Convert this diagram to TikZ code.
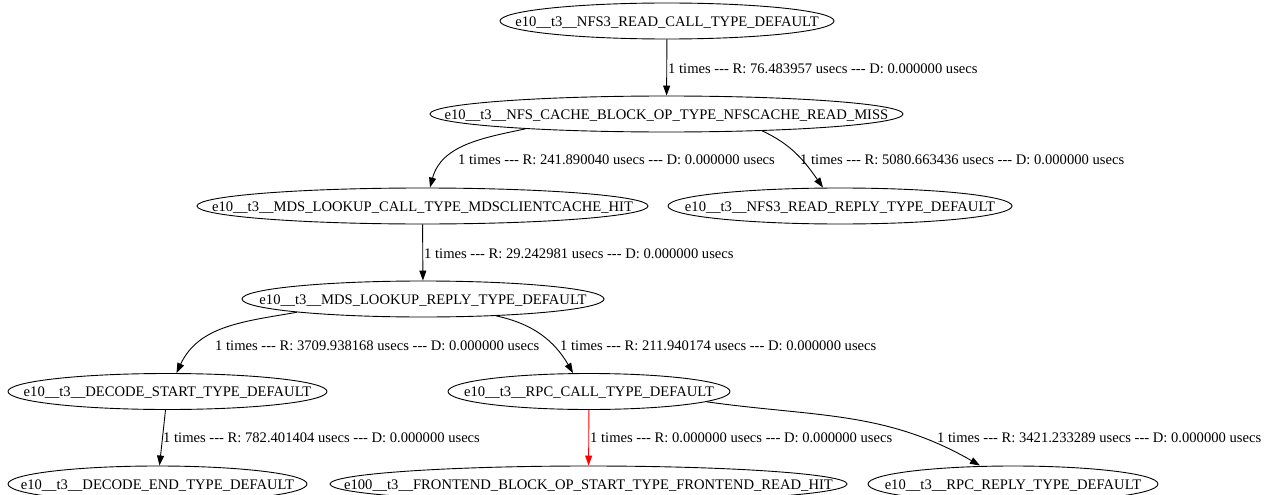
\documentclass[tikz,border=0pt]{standalone}
\usepackage{fontspec}
\setmainfont{Liberation Serif}
\usetikzlibrary{shapes.geometric,arrows.meta}
\newcommand\gvfont{\fontsize{14.6}{17}\selectfont}
\newcommand\ddd{-{}-{}-}
\begin{document}
\begin{tikzpicture}[x=1pt,y=-1pt,
  gnode/.style={ellipse, draw, line width=0.9pt, minimum height=36pt, inner sep=0pt},
  ntext/.style={inner sep=0pt, font=\gvfont, yshift=-1.5pt},
  elabel/.style={anchor=west, inner sep=0pt, font=\gvfont},
  conn/.style={draw, line width=0.9pt, -{Triangle[length=10pt,width=7pt]}},
]
\fill[white] (0,0) rectangle (1269,495);
\useasboundingbox (0,0) rectangle (1269,495);

% nodes
\node[gnode, minimum width=334pt] (n1) at (667,21) {};
\node[ntext] (n1t) at (n1.center) {e10\_\_t3\_\_NFS3\_READ\_CALL\_TYPE\_DEFAULT};
\node[gnode, minimum width=473pt] (n2) at (666.5,114) {};
\node[ntext] (n2t) at (n2.center) {e10\_\_t3\_\_NFS\_CACHE\_BLOCK\_OP\_TYPE\_NFSCACHE\_READ\_MISS};
\node[gnode, minimum width=451pt] (n3) at (422.5,206) {};
\node[ntext] (n3t) at (n3.center) {e10\_\_t3\_\_MDS\_LOOKUP\_CALL\_TYPE\_MDSCLIENTCACHE\_HIT};
\node[gnode, minimum width=344pt] (n4) at (840,206) {};
\node[ntext] (n4t) at (n4.center) {e10\_\_t3\_\_NFS3\_READ\_REPLY\_TYPE\_DEFAULT};
\node[gnode, minimum width=362pt] (n5) at (423,299) {};
\node[ntext] (n5t) at (n5.center) {e10\_\_t3\_\_MDS\_LOOKUP\_REPLY\_TYPE\_DEFAULT};
\node[gnode, minimum width=319pt] (n6) at (167.5,391.5) {};
\node[ntext] (n6t) at (n6.center) {e10\_\_t3\_\_DECODE\_START\_TYPE\_DEFAULT};
\node[gnode, minimum width=282pt] (n7) at (589,391.5) {};
\node[ntext] (n7t) at (n7.center) {e10\_\_t3\_\_RPC\_CALL\_TYPE\_DEFAULT};
\node[gnode, minimum width=299pt] (n8) at (157.5,484) {};
\node[ntext] (n8t) at (n8.center) {e10\_\_t3\_\_DECODE\_END\_TYPE\_DEFAULT};
\node[gnode, minimum width=517pt] (n9) at (588.5,484) {};
\node[ntext] (n9t) at (n9.center) {e100\_\_t3\_\_FRONTEND\_BLOCK\_OP\_START\_TYPE\_FRONTEND\_READ\_HIT};
\node[gnode, minimum width=290pt] (n10) at (1013,484) {};
\node[ntext] (n10t) at (n10.center) {e10\_\_t3\_\_RPC\_REPLY\_TYPE\_DEFAULT};

% edges
\draw[conn] (n1) -- (n2);
\draw[conn] (n2.186) to[out=192,in=75] ([xshift=7.5pt]n3.north);
\draw[conn] (n2.350) to[out=-25,in=125] ([xshift=-17pt]n4.north);
\draw[conn] (n3) -- (n5);
\draw[conn] (n5.186) to[out=190,in=65] ([xshift=9pt]n6.north);
\draw[conn] (n5.347) to[out=-12,in=120] ([xshift=-16pt]n7.north);
\draw[conn] (n6) -- (n8);
\draw[conn, red] (n7) -- (n9);
\draw[conn] (n7.355) to[out=-8,in=150] ([xshift=-33pt]n10.north);

% edge labels
\node[elabel] (l1) at (668,69) {1 times \ddd{} R: 76.483957 usecs \ddd{} D: 0.000000 usecs};
\node[elabel] (l2) at (458,160) {1 times \ddd{} R: 241.890040 usecs \ddd{} D: 0.000000 usecs};
\node[elabel] (l3) at (800,160) {1 times \ddd{} R: 5080.663436 usecs \ddd{} D: 0.000000 usecs};
\node[elabel] (l4) at (424,254) {1 times \ddd{} R: 29.242981 usecs \ddd{} D: 0.000000 usecs};
\node[elabel] (l5) at (215,346) {1 times \ddd{} R: 3709.938168 usecs \ddd{} D: 0.000000 usecs};
\node[elabel] (l6) at (560,346) {1 times \ddd{} R: 211.940174 usecs \ddd{} D: 0.000000 usecs};
\node[elabel] (l7) at (163,438) {1 times \ddd{} R: 782.401404 usecs \ddd{} D: 0.000000 usecs};
\node[elabel] (l8) at (590,438) {1 times \ddd{} R: 0.000000 usecs \ddd{} D: 0.000000 usecs};
\node[elabel] (l9) at (937,438) {1 times \ddd{} R: 3421.233289 usecs \ddd{} D: 0.000000 usecs};
\end{tikzpicture}
\end{document}
